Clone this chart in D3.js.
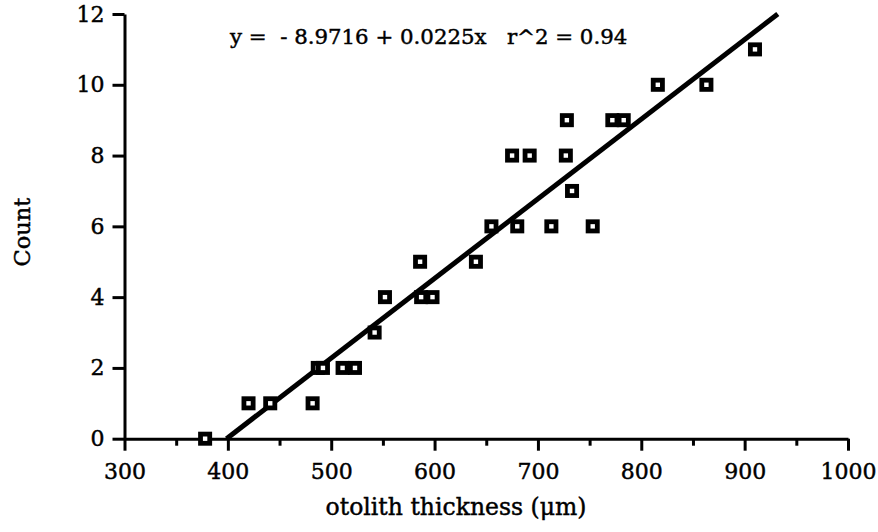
<!DOCTYPE html>
<html>
<head>
<meta charset="utf-8">
<script src="https://cdn.jsdelivr.net/npm/d3@7"></script>
<style>
  html, body { margin: 0; padding: 0; background: #fff; }
  svg { display: block; }
  text { font-family: "DejaVu Serif", "Liberation Serif", serif; fill: #000; stroke: #000; stroke-width: 0.45px; }
</style>
</head>
<body>
<svg id="chart" width="878" height="532"></svg>
<script>
// Otolith thickness (µm) against count
const thickness = [378, 420, 441, 482, 487, 492, 511, 523, 542, 552, 587, 598,
                   586, 640, 655, 680, 713, 753, 733, 675, 692, 727, 728, 772,
                   783, 816, 863, 910];
const counts    = [0, 1, 1, 1, 2, 2, 2, 2, 3, 4, 4, 4,
                   5, 5, 6, 6, 6, 6, 7, 8, 8, 8, 9, 9,
                   9, 10, 10, 11];
const xTicks = [300, 400, 500, 600, 700, 800, 900, 1000];
const xMinorTicks = [350, 450, 550, 650, 750, 850, 950];
const yTicks = [0, 2, 4, 6, 8, 10, 12];

// Least-squares fit
const intercept = -8.9716;
const slope = 0.0225;
const r2 = 0.94;

const svg = d3.select("#chart");
const x = d3.scaleLinear().domain([300, 1000]).range([124.5, 848]);
const y = d3.scaleLinear().domain([0, 12]).range([438.7, 14]);

// x axis
const xAxis = svg.append("g").attr("transform", `translate(0,${y(0)})`);
xAxis.call(d3.axisBottom(x).tickValues(xMinorTicks).tickSize(7).tickFormat(""))
  .call(g => g.select(".domain").remove());
xAxis.append("g").call(d3.axisBottom(x).tickValues(xTicks).tickSize(12).tickSizeOuter(0)
  .tickPadding(13).tickFormat(d3.format("d")));
xAxis.selectAll("line").attr("stroke", "#000").attr("stroke-width", 3);
xAxis.selectAll(".domain").attr("stroke", "#000").attr("stroke-width", 3);
xAxis.selectAll("text").attr("font-size", 22).attr("font-family", "DejaVu Serif").attr("fill", "#000");

// y axis
const yAxis = svg.append("g").attr("transform", `translate(${x(300)},0)`);
yAxis.call(d3.axisLeft(y).tickValues(yTicks).tickSize(12).tickSizeOuter(0)
  .tickPadding(8).tickFormat(d3.format("d")));
yAxis.selectAll("line").attr("stroke", "#000").attr("stroke-width", 3);
yAxis.select(".domain").attr("stroke", "#000").attr("stroke-width", 3);
yAxis.selectAll("text").attr("font-size", 22).attr("font-family", "DejaVu Serif").attr("fill", "#000");

// regression line, clipped to the count range 0..12
const fitX0 = (0 - intercept) / slope;
const fitX1 = (12 - intercept) / slope;
svg.append("line")
  .attr("x1", x(fitX0)).attr("y1", y(intercept + slope * fitX0))
  .attr("x2", x(fitX1)).attr("y2", y(intercept + slope * fitX1))
  .attr("stroke", "#000").attr("stroke-width", 5);

// data points: heavy open squares
const pts = svg.append("g").selectAll("g")
  .data(thickness.map((t, i) => ({t, c: counts[i]})))
  .join("g")
  .attr("transform", d => `translate(${x(d.t)},${y(d.c)})`);
pts.append("rect").attr("x", -7).attr("y", -7).attr("width", 14).attr("height", 14).attr("fill", "#000");
pts.append("rect").attr("x", -2.2).attr("y", -2.2).attr("width", 4.4).attr("height", 4.4).attr("fill", "#fff");

// equation
svg.append("text")
  .attr("x", 230).attr("y", 44)
  .attr("font-size", 21.3)
  .style("white-space", "pre")
  .text(`y =  - ${Math.abs(intercept).toFixed(4)} + ${slope.toFixed(4)}x   r^2 = ${r2.toFixed(2)}`);

// axis titles
svg.append("text")
  .attr("x", 456).attr("y", 515)
  .attr("text-anchor", "middle")
  .attr("font-size", 23.5)
  .text("otolith thickness (μm)");

svg.append("text")
  .attr("transform", "translate(30,232) rotate(-90)")
  .attr("text-anchor", "middle")
  .attr("font-size", 22.5)
  .text("Count");
</script>
</body>
</html>
